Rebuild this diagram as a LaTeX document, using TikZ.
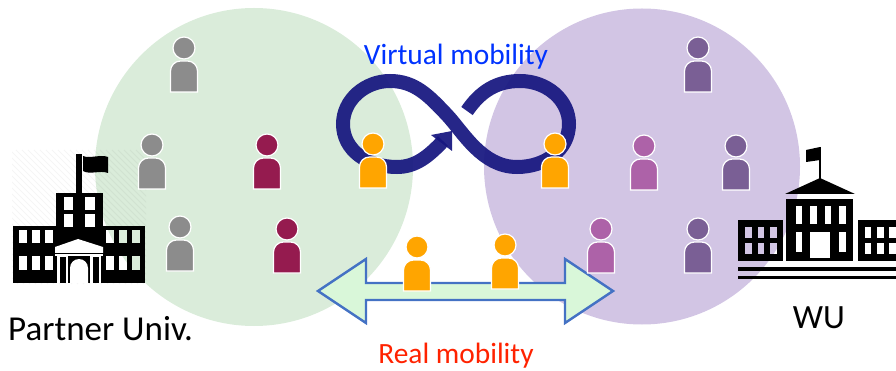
\documentclass[tikz,border=0pt]{standalone}
\usepackage{fontspec}
\setmainfont{Carlito}
\definecolor{greencirc}{HTML}{DAECDA}
\definecolor{purplecirc}{HTML}{D2C5E4}
\definecolor{pgray}{HTML}{8C8C8C}
\definecolor{pmaroon}{HTML}{951B4F}
\definecolor{porange}{HTML}{FFA500}
\definecolor{ppink}{HTML}{AD62A8}
\definecolor{pdark}{HTML}{7A5F95}
\definecolor{loopnavy}{HTML}{16167F}
\definecolor{arrowfill}{HTML}{D9F7D9}
\definecolor{arrowline}{HTML}{4472C4}
\definecolor{virtblue}{HTML}{0033FF}
\definecolor{realred}{HTML}{FF2200}
\tikzset{
  x=1pt,y=-1pt,
  area/.style={fill=#1,draw=none,blend mode=multiply},
  win/.style={fill=white,draw=none},
  bld/.style={fill=black,draw=none},
  lbl/.style={inner sep=0pt,font=\fontsize{#1}{#1}\selectfont},
  person/.pic={
    \fill[#1,draw=white,line width=1.2pt] (0,0) circle[radius=11];
    \fill[#1,draw=white,line width=1.2pt] (-13.5,44) -- (-13.5,23) arc[start angle=180,end angle=90,radius=10,y radius=-10]
      -- (3.5,13) arc[start angle=90,end angle=0,radius=10,y radius=-10] -- (13.5,44) -- cycle;
  }
}
\begin{document}
\begin{tikzpicture}
\useasboundingbox (0,0) rectangle (896,371);
% left building
\begin{scope}
  \clip (12,150) rectangle (146,284);
  \foreach \k in {0,6,...,270} {\draw[black!4,line width=1pt] (12+\k,284) -- (12+\k-134,150);}
\end{scope}
\fill[bld] (76,154) rectangle (82,194);
\fill[bld] (83,156) .. controls (90,159) and (100,154) .. (108,157) -- (108,173) .. controls (100,170) and (90,175) .. (83,171) -- cycle;
\fill[bld] (56,193) rectangle (103,230);
\fill[bld] (13,226) rectangle (145,283);
\fill[win] (63.5,197.5) rectangle (72.5,210);
\fill[win] (63.5,214) rectangle (72.5,227);
\fill[win] (85,197.5) rectangle (95,210);
\fill[win] (85,214) rectangle (95,227);
\foreach \x in {18.5,32,44.5,105.5,118.5,131.5} {
  \fill[win] (\x,230) rectangle +(8,13.5);
  \fill[win] (\x,256) rectangle +(8,13.5);
}
\fill[win] (55,247) -- (78,239) -- (103,247) -- (103,253) -- (55,253) -- cycle;
\fill[win] (55,254) rectangle (103,256);
\fill[win] (57,256) rectangle (68,283);
\fill[bld] (59.5,257) rectangle (65.5,283);
\fill[win] (90,256) rectangle (101,283);
\fill[bld] (92.5,257) rectangle (98.5,283);
\fill[win] (70,283) -- (70,268) arc[start angle=180,end angle=0,radius=9,y radius=-9] -- (88,283) -- cycle;
% right building
\fill[bld] (819,147) rectangle (821,179);
\fill[bld] (806,150) -- (820,147) -- (820,160) -- (806,162) -- cycle;
\fill[bld] (785,194) -- (820,178) -- (855,194) -- cycle;
\fill[bld] (786,199) rectangle (853,261);
\foreach \x in {795.5,810,824.5,839} {\fill[win] (\x,206) rectangle +(6.5,18.5);}
\fill[win] (795.5,232) rectangle (802,252.5);
\fill[win] (839,232) rectangle (845.5,252.5);
\fill[win] (810,232) rectangle (830,258);
\fill[bld] (738,220) rectangle (783,261);
\fill[bld] (858,220) rectangle (896,261);
\foreach \x in {745,757.5,770,864.5,877,889} {
  \fill[win] (\x,227) rectangle +(6.5,11);
  \fill[win] (\x,243) rectangle +(6.5,11);
}
\fill[bld] (738,267) rectangle (896,271);
\fill[bld] (738,276) rectangle (896,279);
% circles
\path[area=greencirc] (254,167) circle[radius=159];
\path[area=purplecirc] (642,166.5) circle[radius=158];
% double arrow
\draw[fill=arrowfill,draw=arrowline,line width=2.4pt,miter limit=10]
 (318,291) -- (366,259) -- (366,283) -- (565,283) -- (565,259) -- (613,291)
 -- (565,323) -- (565,300) -- (366,300) -- (366,323) -- cycle;
% infinity loop
\draw[loopnavy,opacity=.93,line width=14pt]
 (443,141) .. controls (428,157) and (415,167) .. (397,167)
 .. controls (367,167) and (343,150) .. (343,124)
 .. controls (343,100) and (365,81) .. (390,81)
 .. controls (415,81) and (429,96) .. (447,115)
 .. controls (463,132) and (482,167) .. (517,167)
 .. controls (545,167) and (569,150) .. (569,124)
 .. controls (569,100) and (547,81) .. (520,81)
 .. controls (496,81) and (480,92) .. (467,111);
\fill[loopnavy,opacity=.93] (431,135) -- (452,131) -- (452,151) -- cycle;
% people
\foreach \px/\py/\pc in {184/48/pgray,152/145/pgray,180/227/pgray,267/145/pmaroon,287/229/pmaroon,
  373/144/porange,555/144/porange,417/247/porange,505/245/porange,
  698/48/pdark,644/146/ppink,736/146/pdark,601/229/ppink,698/229/pdark}
  {\pic at (\px,\py) {person=\pc};}
% labels
\node[lbl=29.4,text=virtblue] (virt) at (456,57) {Virtual mobility};
\node[lbl=29.4,text=realred] (real) at (456,355.5) {Real mobility};
\node[lbl=35,anchor=west] (partner) at (8,329) {Partner Univ.};
\node[lbl=34] (wu) at (819,318) {WU};
\end{tikzpicture}
\end{document}
